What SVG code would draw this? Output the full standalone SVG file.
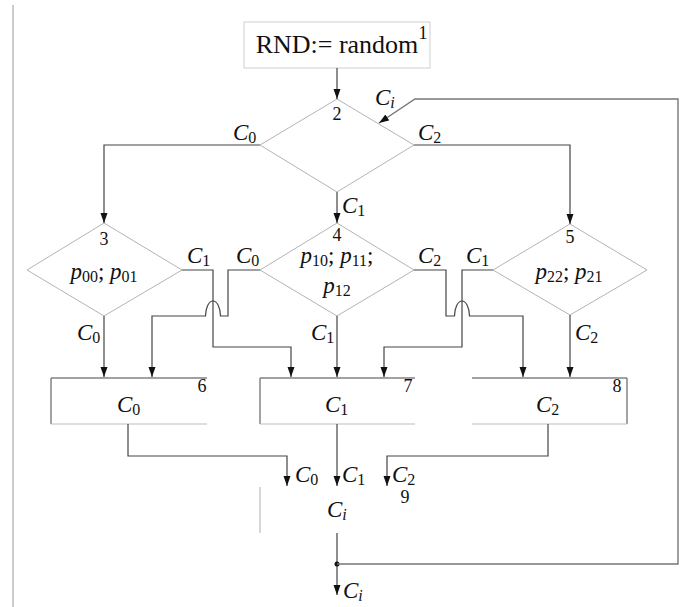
<svg xmlns="http://www.w3.org/2000/svg" width="683" height="607" viewBox="0 0 683 607">
<style>
text{font-family:"Liberation Serif","Times New Roman",serif;fill:#111}
.lbl{font-size:23px}
.it{font-style:italic}
.sub{font-size:16px;font-style:normal}
.sub.it{font-style:italic}
.num{font-size:18px;text-anchor:middle}
.big{font-size:26px}
.dia{fill:none;stroke:#b4b4b4;stroke-width:1}
.top{stroke:#444;stroke-width:1.2;fill:none}
.side{stroke:#666;stroke-width:1.2;fill:none}
.bot{stroke:#bdbdbd;stroke-width:1.2;fill:none}
.con{fill:none;stroke:#444;stroke-width:1.2}
.loop{fill:none;stroke:#777;stroke-width:1.4}
</style>
<defs>
<marker id="ah" markerUnits="userSpaceOnUse" markerWidth="10" markerHeight="8" refX="10" refY="3.5" orient="auto">
<path d="M0,0 L10,3.5 L0,7 z" fill="#111"/>
</marker>
</defs>
<line x1="13" y1="5" x2="13" y2="607" stroke="#aaa" stroke-width="1.2"/>
<g id="node1">
<rect x="244" y="22" width="186" height="46" fill="none" stroke="#cfcfcf" stroke-width="1"/>
<text class="big" x="337" y="53" text-anchor="middle">RND:= random</text>
<text class="num" x="423" y="39">1</text>
</g>
<g id="node2">
<polygon class="dia" points="337,99 414,145 337,192 260,145"/>
<text class="num" x="337" y="120">2</text>
</g>
<g id="node3">
<polygon class="dia" points="104,223 182,270 104,316 27,270"/>
<text class="num" x="104" y="245">3</text>
<text class="lbl" x="104" y="279" text-anchor="middle"><tspan class="it">p</tspan><tspan class="sub" dy="3">00</tspan><tspan dy="-3">; </tspan><tspan class="it">p</tspan><tspan class="sub" dy="3">01</tspan></text>
</g>
<g id="node4">
<polygon class="dia" points="337,223 414,270 337,316 260,270"/>
<text class="num" x="337" y="241">4</text>
<text class="lbl" x="337" y="263" text-anchor="middle"><tspan class="it">p</tspan><tspan class="sub" dy="3">10</tspan><tspan dy="-3">; </tspan><tspan class="it">p</tspan><tspan class="sub" dy="3">11</tspan><tspan dy="-3">;</tspan></text>
<text class="lbl" x="337" y="293" text-anchor="middle"><tspan class="it">p</tspan><tspan class="sub" dy="3">12</tspan></text>
</g>
<g id="node5">
<polygon class="dia" points="570,224 647,270 570,315 493,270"/>
<text class="num" x="570" y="243">5</text>
<text class="lbl" x="569" y="279" text-anchor="middle"><tspan class="it">p</tspan><tspan class="sub" dy="3">22</tspan><tspan dy="-3">; </tspan><tspan class="it">p</tspan><tspan class="sub" dy="3">21</tspan></text>
</g>
<g id="node6">
<path class="top" d="M51,378 H207"/>
<path class="side" d="M51,378 V424"/>
<path class="bot" d="M51,424 H207"/>
<text class="num" x="202" y="392">6</text>
<text class="lbl" x="117" y="412"><tspan class="it">C</tspan><tspan class="sub" dy="3">0</tspan></text>
</g>
<g id="node7">
<path class="top" d="M260,378 H415"/>
<path class="side" d="M260,378 V424"/>
<path class="bot" d="M260,424 H415"/>
<text class="num" x="408" y="392">7</text>
<text class="lbl" x="325" y="412"><tspan class="it">C</tspan><tspan class="sub" dy="3">1</tspan></text>
</g>
<g id="node8">
<path class="top" d="M472,378 H627"/>
<path class="side" d="M627,378 V424" stroke="#aaa"/>
<path class="bot" d="M472,424 H627"/>
<text class="num" x="617" y="392">8</text>
<text class="lbl" x="536" y="412"><tspan class="it">C</tspan><tspan class="sub" dy="3">2</tspan></text>
</g>
<g id="node9">
<path class="bot" d="M260,487 V533" stroke="#aaa"/>
<text class="num" x="405" y="503">9</text>
<text class="lbl" x="327" y="517"><tspan class="it">C</tspan><tspan class="sub it" dy="3">i</tspan></text>
</g>
<g id="connectors">
<path class="con" d="M337,68 V99" marker-end="url(#ah)"/>
<path class="con" d="M260,145 H104 V223" marker-end="url(#ah)"/>
<path class="con" d="M414,145 H570 V224" marker-end="url(#ah)"/>
<path class="con" d="M337,192 V223" marker-end="url(#ah)"/>
<path class="con" d="M104,316 V377" marker-end="url(#ah)"/>
<path class="con" d="M182,270 H213 V347 H291 V377" marker-end="url(#ah)"/>
<path class="con" d="M260,270 H228 V316 H220.5 A7.5 15 0 0 0 205.5,316 H152 V377" marker-end="url(#ah)"/>
<path class="con" d="M337,316 V377" marker-end="url(#ah)"/>
<path class="con" d="M414,270 H446 V316 H454.5 A7.5 15 0 0 1 469.5,316 H523 V377" marker-end="url(#ah)"/>
<path class="con" d="M493,270 H462 V347 H384 V377" marker-end="url(#ah)"/>
<path class="con" d="M570,315 V377" marker-end="url(#ah)"/>
<path class="con" d="M128,424 V456 H287 V486" marker-end="url(#ah)"/>
<path class="con" d="M337,424 V486" marker-end="url(#ah)"/>
<path class="con" d="M548,424 V456 H387 V486" marker-end="url(#ah)"/>
<path class="con" d="M337,533 V595" marker-end="url(#ah)"/>
<circle cx="337" cy="564" r="2.5" fill="#111"/>
<path class="loop" d="M337,564 H678 V99 H415 L379,123" marker-end="url(#ah)"/>
<text class="lbl" x="233" y="140"><tspan class="it">C</tspan><tspan class="sub" dy="3">0</tspan></text>
<text class="lbl" x="418" y="140"><tspan class="it">C</tspan><tspan class="sub" dy="3">2</tspan></text>
<text class="lbl" x="375" y="105"><tspan class="it">C</tspan><tspan class="sub it" dy="3">i</tspan></text>
<text class="lbl" x="342" y="213"><tspan class="it">C</tspan><tspan class="sub" dy="3">1</tspan></text>
<text class="lbl" x="187" y="263"><tspan class="it">C</tspan><tspan class="sub" dy="3">1</tspan></text>
<text class="lbl" x="236" y="263"><tspan class="it">C</tspan><tspan class="sub" dy="3">0</tspan></text>
<text class="lbl" x="418" y="263"><tspan class="it">C</tspan><tspan class="sub" dy="3">2</tspan></text>
<text class="lbl" x="466" y="263"><tspan class="it">C</tspan><tspan class="sub" dy="3">1</tspan></text>
<text class="lbl" x="77" y="340"><tspan class="it">C</tspan><tspan class="sub" dy="3">0</tspan></text>
<text class="lbl" x="311" y="340"><tspan class="it">C</tspan><tspan class="sub" dy="3">1</tspan></text>
<text class="lbl" x="575" y="340"><tspan class="it">C</tspan><tspan class="sub" dy="3">2</tspan></text>
<text class="lbl" x="295" y="482"><tspan class="it">C</tspan><tspan class="sub" dy="3">0</tspan></text>
<text class="lbl" x="342" y="482"><tspan class="it">C</tspan><tspan class="sub" dy="3">1</tspan></text>
<text class="lbl" x="392" y="482"><tspan class="it">C</tspan><tspan class="sub" dy="3">2</tspan></text>
<text class="lbl" x="343" y="598"><tspan class="it">C</tspan><tspan class="sub it" dy="3">i</tspan></text>
</g>
</svg>
